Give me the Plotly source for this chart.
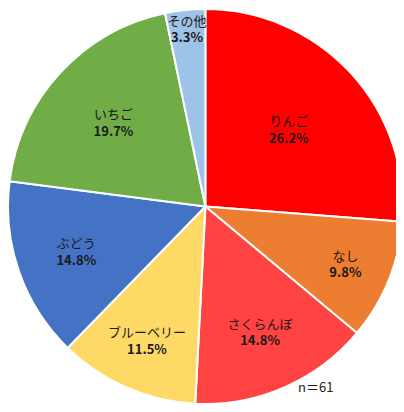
import plotly.graph_objects as go

labels = ["りんご", "なし", "さくらんぼ", "ブルーベリー", "ぶどう", "いちご", "その他"]
counts = [16, 6, 9, 7, 9, 12, 2]
pct_text = ["26.2%", "9.8%", "14.8%", "11.5%", "14.8%", "19.7%", "3.3%"]
colors = ["#FF0000", "#ED7D31", "#FF4343", "#FFD966", "#4472C4", "#70AD47", "#9DC3E6"]

fig = go.Figure()
fig.add_trace(go.Pie(
    labels=labels,
    values=counts,
    text=pct_text,
    texttemplate="%{label}<br><b>%{text}</b>",
    textposition="inside",
    insidetextorientation="horizontal",
    sort=False,
    direction="clockwise",
    rotation=0,
    marker=dict(colors=colors, line=dict(color="white", width=2)),
    textfont=dict(family="Noto Sans CJK JP", size=13, color="#1a1a1a"),
    domain=dict(x=[0.0, 0.997], y=[0.0198, 0.9975]),
    showlegend=False,
))

# page has an 8px body margin, so the figure is sized to fit inside the window
fig.add_annotation(text="n＝61", x=0.826, y=0.035, xref="paper", yref="paper",
                   showarrow=False, font=dict(family="Noto Sans CJK JP", size=13, color="#222"))

fig.update_layout(width=396, height=404, margin=dict(l=0, r=0, t=0, b=0),
                  paper_bgcolor="white", uniformtext=dict(minsize=11, mode="show"))
fig.write_html("out.html")
